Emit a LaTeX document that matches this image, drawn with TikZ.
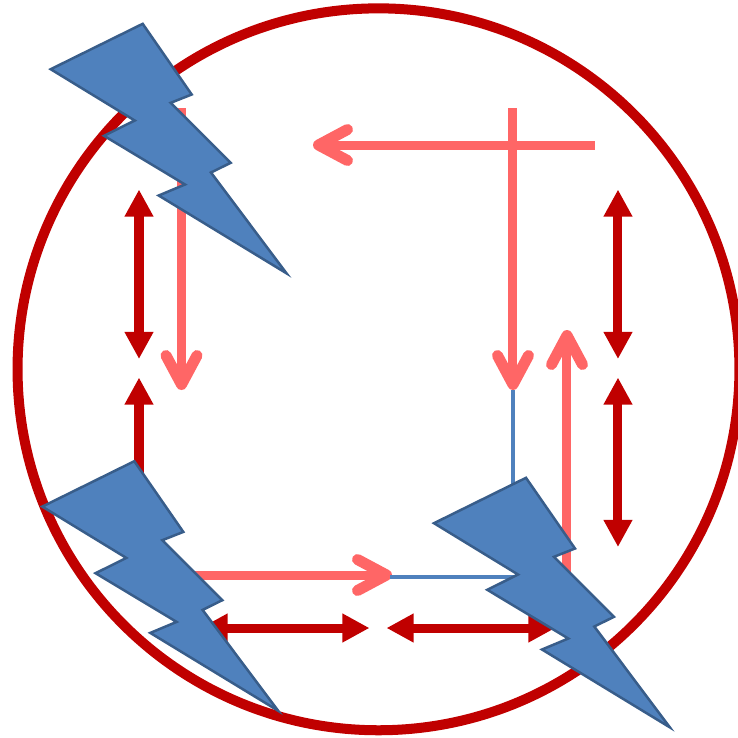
\documentclass[tikz,border=0pt]{standalone}
\usepackage{tikz}
\usetikzlibrary{arrows.meta}
\definecolor{ringred}{HTML}{C00000}
\definecolor{flowred}{HTML}{FF6666}
\definecolor{boltblue}{HTML}{4F81BD}
\definecolor{boltedge}{HTML}{385D8A}
\tikzstyle{ring} = [circle, minimum size=7.215cm, inner sep=0pt, draw=ringred, line width=0.1cm]
\tikzstyle{link} = [line width=0.09cm, draw=ringred, {Triangle[length=0.27cm,width=0.27cm]}-{Triangle[length=0.27cm,width=0.27cm]}]
\tikzstyle{flow} = [line width=0.09cm, draw=flowred, -{Straight Barb[length=0.29cm,width=0.31cm,round,line width=0.11cm]}]
\tikzstyle{thinline} = [line width=0.04cm, draw=boltblue]
\tikzstyle{bolt} = [fill=boltblue, draw=boltedge, line width=0.025cm, line join=miter]
\newcommand{\Bolt}[1]{\draw [bolt, shift={#1}] (0,0) -- (49,70.7) -- (28,79) -- (88,139) -- (68.3,148.7) -- (143.8,249.5) -- (16,171.7) -- (42.3,160.7) -- (-38.7,112) -- (-8,96.7) -- (-92,45.4) -- cycle;}

\begin{document}
\begin{tikzpicture}[x=0.01cm, y=-0.01cm]
    \useasboundingbox (0,0) rectangle (738,738);
    \node (Ring) [ring] at (378.5,369.3) {};
    % double arrows
    \coordinate (LeftTop) at (139,189.5);
    \coordinate (LeftMid) at (139,359);
    \coordinate (LeftLow) at (139,377.5);
    \coordinate (LeftEnd) at (139,546);
    \coordinate (RightTop) at (618,189.5);
    \coordinate (RightMid) at (618,359);
    \coordinate (RightLow) at (618,377.5);
    \coordinate (RightEnd) at (618,547);
    \coordinate (BaseA) at (200.5,628);
    \coordinate (BaseB) at (369.5,628);
    \coordinate (BaseC) at (386.5,628);
    \coordinate (BaseD) at (555.5,628);
    \draw [link] (LeftTop) -- (LeftMid);
    \draw [link] (LeftLow) -- (LeftEnd);
    \draw [link] (RightTop) -- (RightMid);
    \draw [link] (RightLow) -- (RightEnd);
    \draw [link] (BaseA) -- (BaseB);
    \draw [link] (BaseC) -- (BaseD);
    % light arrows
    \coordinate (FlowLeftA) at (181.5,108);
    \coordinate (FlowLeftB) at (181.5,390);
    \coordinate (FlowTopA) at (595,145);
    \coordinate (FlowTopB) at (313,145);
    \coordinate (FlowMidA) at (513,108);
    \coordinate (FlowMidB) at (513,390);
    \coordinate (FlowRightA) at (567,572);
    \coordinate (FlowRightB) at (567,330);
    \coordinate (FlowBaseA) at (180,575);
    \coordinate (FlowBaseB) at (392,575);
    \draw [flow] (FlowLeftA) -- (FlowLeftB);
    \draw [flow] (FlowTopA) -- (FlowTopB);
    \draw [flow] (FlowMidA) -- (FlowMidB);
    \draw [flow] (FlowRightA) -- (FlowRightB);
    \draw [flow] (FlowBaseA) -- (FlowBaseB);
    % thin blue lines
    \coordinate (ThinA) at (513,390);
    \coordinate (ThinB) at (513,500);
    \coordinate (ThinC) at (390,577);
    \coordinate (ThinD) at (520,577);
    \draw [thinline] (ThinA) -- (ThinB);
    \draw [thinline] (ThinC) -- (ThinD);
    % lightning
    \Bolt{(142.7,23.8)}
    \Bolt{(134.3,461.2)}
    \Bolt{(526,477.8)}
\end{tikzpicture}
\end{document}
